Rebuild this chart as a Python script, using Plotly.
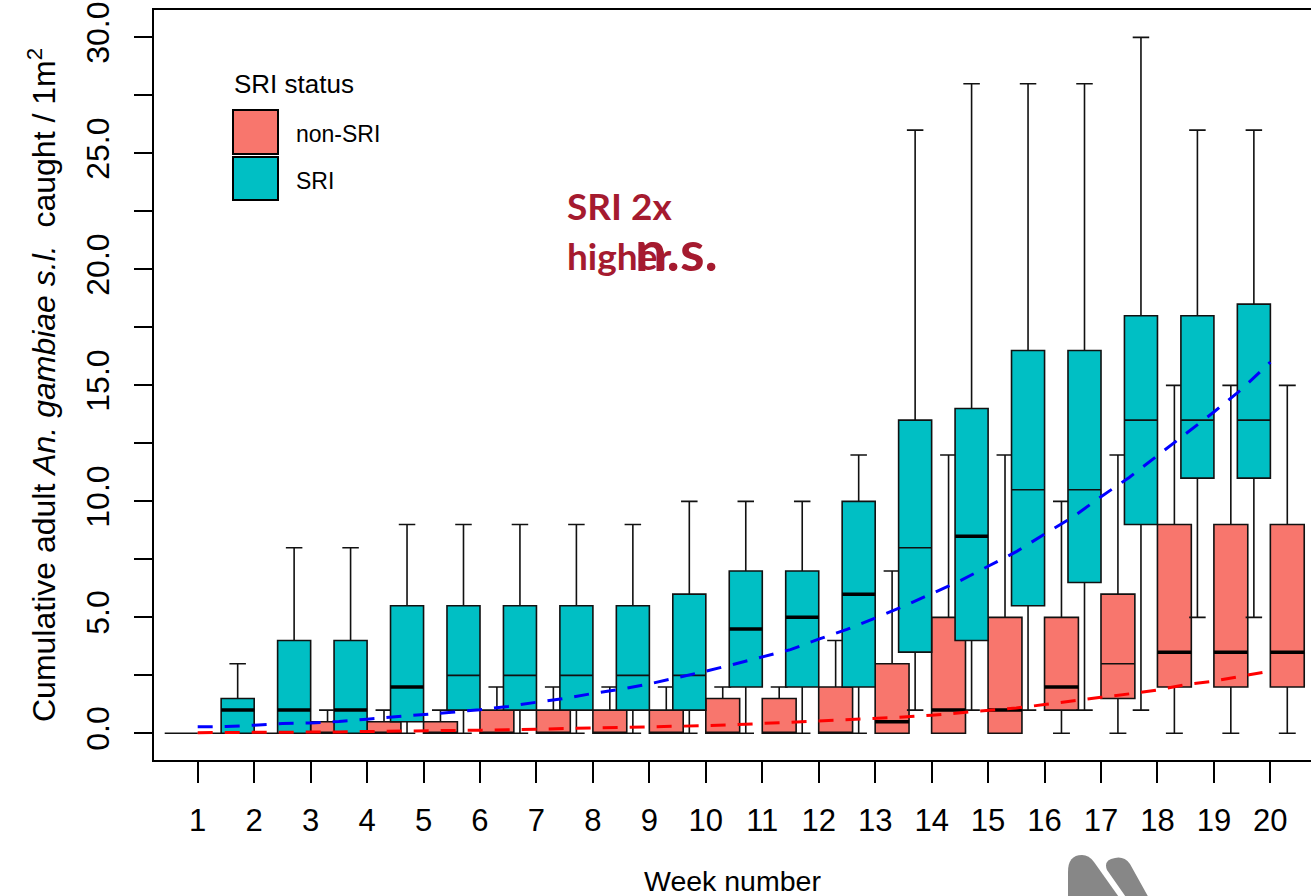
import plotly.graph_objects as go

# ---------------- data ----------------
weeks = list(range(1, 21))
week_labels = [str(w) for w in weeks]

# SRI boxes
sri_q1 = [0, 0, 0, 0, 0.5, 1, 1, 1, 1, 1, 2, 2, 2, 3.5, 4, 5.5, 6.5, 9, 11, 11]
sri_med = [0, 1, 1, 1, 2, 2.5, 2.5, 2.5, 2.5, 2.5, 4.5, 5, 6, 8, 8.5, 10.5, 10.5, 13.5, 13.5, 13.5]
sri_q3 = [0, 1.5, 4, 4, 5.5, 5.5, 5.5, 5.5, 5.5, 6, 7, 7, 10, 13.5, 14, 16.5, 16.5, 18, 18, 18.5]
sri_lo = [0, 0, 0, 0, 0, 0, 0, 0, 0, 0, 0, 0, 0, 1, 1, 1, 1, 1, 5, 5]
sri_hi = [0, 3, 8, 8, 9, 9, 9, 9, 9, 10, 10, 10, 12, 26, 28, 28, 28, 30, 26, 26]

# non-SRI boxes
nsri_q1 = [0, 0, 0, 0, 0, 0, 0, 0, 0, 0, 0, 0, 0, 0, 0, 1, 1.5, 2, 2, 2]
nsri_med = [0, 0, 0, 0, 0, 0, 0, 0, 0, 0, 0, 0, 0.5, 1, 1, 2, 3, 3.5, 3.5, 3.5]
nsri_q3 = [0, 0, 0.5, 0.5, 0.5, 1, 1, 1, 1, 1.5, 1.5, 2, 3, 5, 5, 5, 6, 9, 9, 9]
nsri_lo = [0] * 20
nsri_hi = [0, 0, 1, 1, 1, 2, 2, 2, 2, 2, 2, 4, 7, 12, 12, 10, 12, 15, 15, 15]

# fitted trend lines (read at half-week steps)
fit_weeks = [1, 1.5, 2, 2.5, 3, 3.5, 4, 4.5, 5, 5.5, 6, 6.5, 7, 7.5, 8, 8.5, 9, 9.5, 10, 10.5,
             11, 11.5, 12, 12.5, 13, 13.5, 14, 14.5, 15, 15.5, 16, 16.5, 17, 17.5, 18, 18.5,
             19, 19.5, 20]
fit_sri = [0.28, 0.29, 0.35, 0.42, 0.45, 0.51, 0.61, 0.70, 0.79, 0.91, 1.02, 1.16, 1.34, 1.50,
           1.72, 1.90, 2.13, 2.40, 2.68, 2.98, 3.30, 3.61, 4.06, 4.48, 4.97, 5.47, 6.02, 6.57,
           7.20, 7.83, 8.59, 9.32, 10.2, 11.03, 11.97, 12.9, 13.85, 14.85, 16.0]
fit_nsri = [0.03, 0.03, 0.04, 0.04, 0.05, 0.06, 0.08, 0.09, 0.10, 0.11, 0.13, 0.15, 0.18, 0.20,
            0.22, 0.24, 0.27, 0.30, 0.33, 0.37, 0.42, 0.47, 0.53, 0.59, 0.64, 0.70, 0.78, 0.88,
            1.00, 1.09, 1.24, 1.38, 1.55, 1.70, 1.87, 2.10, 2.25, 2.47, 2.68]

y_ticks = [0, 2.5, 5, 7.5, 10, 12.5, 15, 17.5, 20, 22.5, 25, 27.5, 30]
y_ticktext = ["0.0", " ", "5.0", " ", "10.0", " ", "15.0", " ", "20.0", " ", "25.0", " ", "30.0"]

# ---------------- style ----------------
SRI_COL = "#00BFC4"
NSRI_COL = "#F8766D"
FONT = "Liberation Sans, Arial, sans-serif"
SRI_OFF, SRI_W = -0.292, 0.585
NSRI_OFF, NSRI_W = 0.30, 0.60
# weeks whose median bar renders heavy in the reference image
SRI_HEAVY_MED = {2, 3, 4, 5, 11, 12, 13, 15}
NSRI_HEAVY_MED = {13, 14, 15, 16, 18, 19, 20}

W, H = 1311, 896
L, T, R, B = 154, 10, 0, 136
PW, PH = W - L - R, H - T - B


def px(xp):
    return (xp - L) / PW


def py(yp):
    return (T + PH - yp) / PH


sri_x = [w + SRI_OFF for w in weeks]
nsri_x = [w + NSRI_OFF for w in weeks]

fig = go.Figure()

fig.add_trace(go.Box(
    x=nsri_x, q1=nsri_q1, median=nsri_med, q3=nsri_q3,
    lowerfence=nsri_lo, upperfence=nsri_hi,
    width=NSRI_W, whiskerwidth=0.5, fillcolor=NSRI_COL,
    line=dict(color="#111111", width=1.6), boxpoints=False,
    showlegend=False, hoverinfo="skip"))

fig.add_trace(go.Box(
    x=sri_x, q1=sri_q1, median=sri_med, q3=sri_q3,
    lowerfence=sri_lo, upperfence=sri_hi,
    width=SRI_W, whiskerwidth=0.5, fillcolor=SRI_COL,
    line=dict(color="#111111", width=1.6), boxpoints=False,
    showlegend=False, hoverinfo="skip"))


def median_segments(xs, meds, w, heavy):
    xx, yy = [], []
    for wk, xc, m in zip(weeks, xs, meds):
        if wk in heavy:
            xx += [xc - w / 2, xc + w / 2, None]
            yy += [m, m, None]
    return xx, yy


for xs, meds, w, heavy in [(nsri_x, nsri_med, NSRI_W, NSRI_HEAVY_MED),
                           (sri_x, sri_med, SRI_W, SRI_HEAVY_MED)]:
    mx, my = median_segments(xs, meds, w, heavy)
    fig.add_trace(go.Scatter(x=mx, y=my, mode="lines",
                             line=dict(color="black", width=3.5),
                             showlegend=False, hoverinfo="skip"))

fig.add_trace(go.Scatter(x=fit_weeks, y=fit_sri, mode="lines",
                         line=dict(color="#0000FF", width=3, dash="15px,12px"),
                         showlegend=False, hoverinfo="skip"))
fig.add_trace(go.Scatter(x=fit_weeks, y=fit_nsri, mode="lines",
                         line=dict(color="#FF0000", width=3, dash="15px,12px"),
                         showlegend=False, hoverinfo="skip"))

shapes = []
# legend keys
shapes.append(dict(type="rect", xref="paper", yref="paper",
                   x0=px(233), x1=px(278), y0=py(154), y1=py(110),
                   fillcolor=NSRI_COL, line=dict(color="black", width=2)))
shapes.append(dict(type="rect", xref="paper", yref="paper",
                   x0=px(233), x1=px(278), y0=py(200), y1=py(157),
                   fillcolor=SRI_COL, line=dict(color="black", width=2)))


def path_from(points):
    s = ""
    for cmd, pts in points:
        s += cmd + " " + " ".join(f"{px(a):.5f},{py(b):.5f}" for a, b in pts) + " "
    return s + "Z"


logo1 = [("M", [(1068, 900)]), ("L", [(1068, 872)]),
         ("Q", [(1068, 855), (1082, 855)]), ("Q", [(1089, 855), (1094, 862)]),
         ("L", [(1121, 900)])]
logo2 = [("M", [(1128, 900)]), ("L", [(1107, 870)]),
         ("Q", [(1103, 860), (1115, 858)]), ("Q", [(1124, 856), (1130, 864)]),
         ("L", [(1150, 900)])]
for lg in (logo1, logo2):
    shapes.append(dict(type="path", xref="paper", yref="paper", path=path_from(lg),
                       fillcolor="#878787", line=dict(width=0)))

annotations = [
    dict(text="SRI status", x=px(232), y=py(84), xref="paper", yref="paper",
         xanchor="left", yanchor="middle", showarrow=False,
         font=dict(family=FONT, size=26, color="black")),
    dict(text="non-SRI", x=px(294), y=py(134), xref="paper", yref="paper",
         xanchor="left", yanchor="middle", showarrow=False,
         font=dict(family=FONT, size=23, color="black")),
    dict(text="SRI", x=px(294), y=py(181), xref="paper", yref="paper",
         xanchor="left", yanchor="middle", showarrow=False,
         font=dict(family=FONT, size=23, color="black")),
    dict(text="Cumulative adult <i>An. gambiae s.l.</i>  caught / 1m<sup>2</sup>",
         x=px(42), y=py(385), xref="paper", yref="paper", textangle=-90,
         xanchor="center", yanchor="middle", showarrow=False,
         font=dict(family=FONT, size=32, color="black")),
    dict(text="Week number", x=px(732), y=py(881), xref="paper", yref="paper",
         xanchor="center", yanchor="middle", showarrow=False,
         font=dict(family=FONT, size=28.5, color="black")),
    dict(text="<b>SRI 2x</b>", x=px(565), y=py(205), xref="paper", yref="paper",
         xanchor="left", yanchor="middle", showarrow=False,
         font=dict(family="Lato, Open Sans, sans-serif", size=37, color="#A51A2F")),
    dict(text="<b>higher</b>", x=px(565), y=py(256), xref="paper", yref="paper",
         xanchor="left", yanchor="middle", showarrow=False,
         font=dict(family="Lato, Open Sans, sans-serif", size=37, color="#A51A2F")),
    dict(text="<b>n.s.</b>", x=px(633), y=py(250), xref="paper", yref="paper",
         xanchor="left", yanchor="middle", showarrow=False,
         font=dict(family="Lato, Open Sans, sans-serif", size=56, color="#A51A2F")),
]

fig.update_layout(
    width=W, height=H, autosize=False,
    margin=dict(l=L, r=R, t=T, b=B, pad=0),
    paper_bgcolor="white", plot_bgcolor="white",
    boxmode="overlay", showlegend=False,
    shapes=shapes, annotations=annotations,
    xaxis=dict(range=[0.226, 20.72], tickvals=weeks, ticktext=week_labels,
               ticks="outside", ticklen=21, tickwidth=1.5, tickcolor="black",
               showline=True, linecolor="black", linewidth=1.5, mirror=True,
               showgrid=False, zeroline=False, ticklabelstandoff=11,
               tickfont=dict(family=FONT, size=31, color="black")),
    yaxis=dict(range=[-1.15, 31.18], tickvals=y_ticks, ticktext=y_ticktext,
               ticks="outside", ticklen=18, tickwidth=1.5, tickcolor="black",
               showline=True, linecolor="black", linewidth=1.5, mirror=False,
               showgrid=False, zeroline=False, tickangle=-90, ticklabelstandoff=12,
               tickfont=dict(family=FONT, size=32, color="black")),
)

fig.write_html("out.html")
